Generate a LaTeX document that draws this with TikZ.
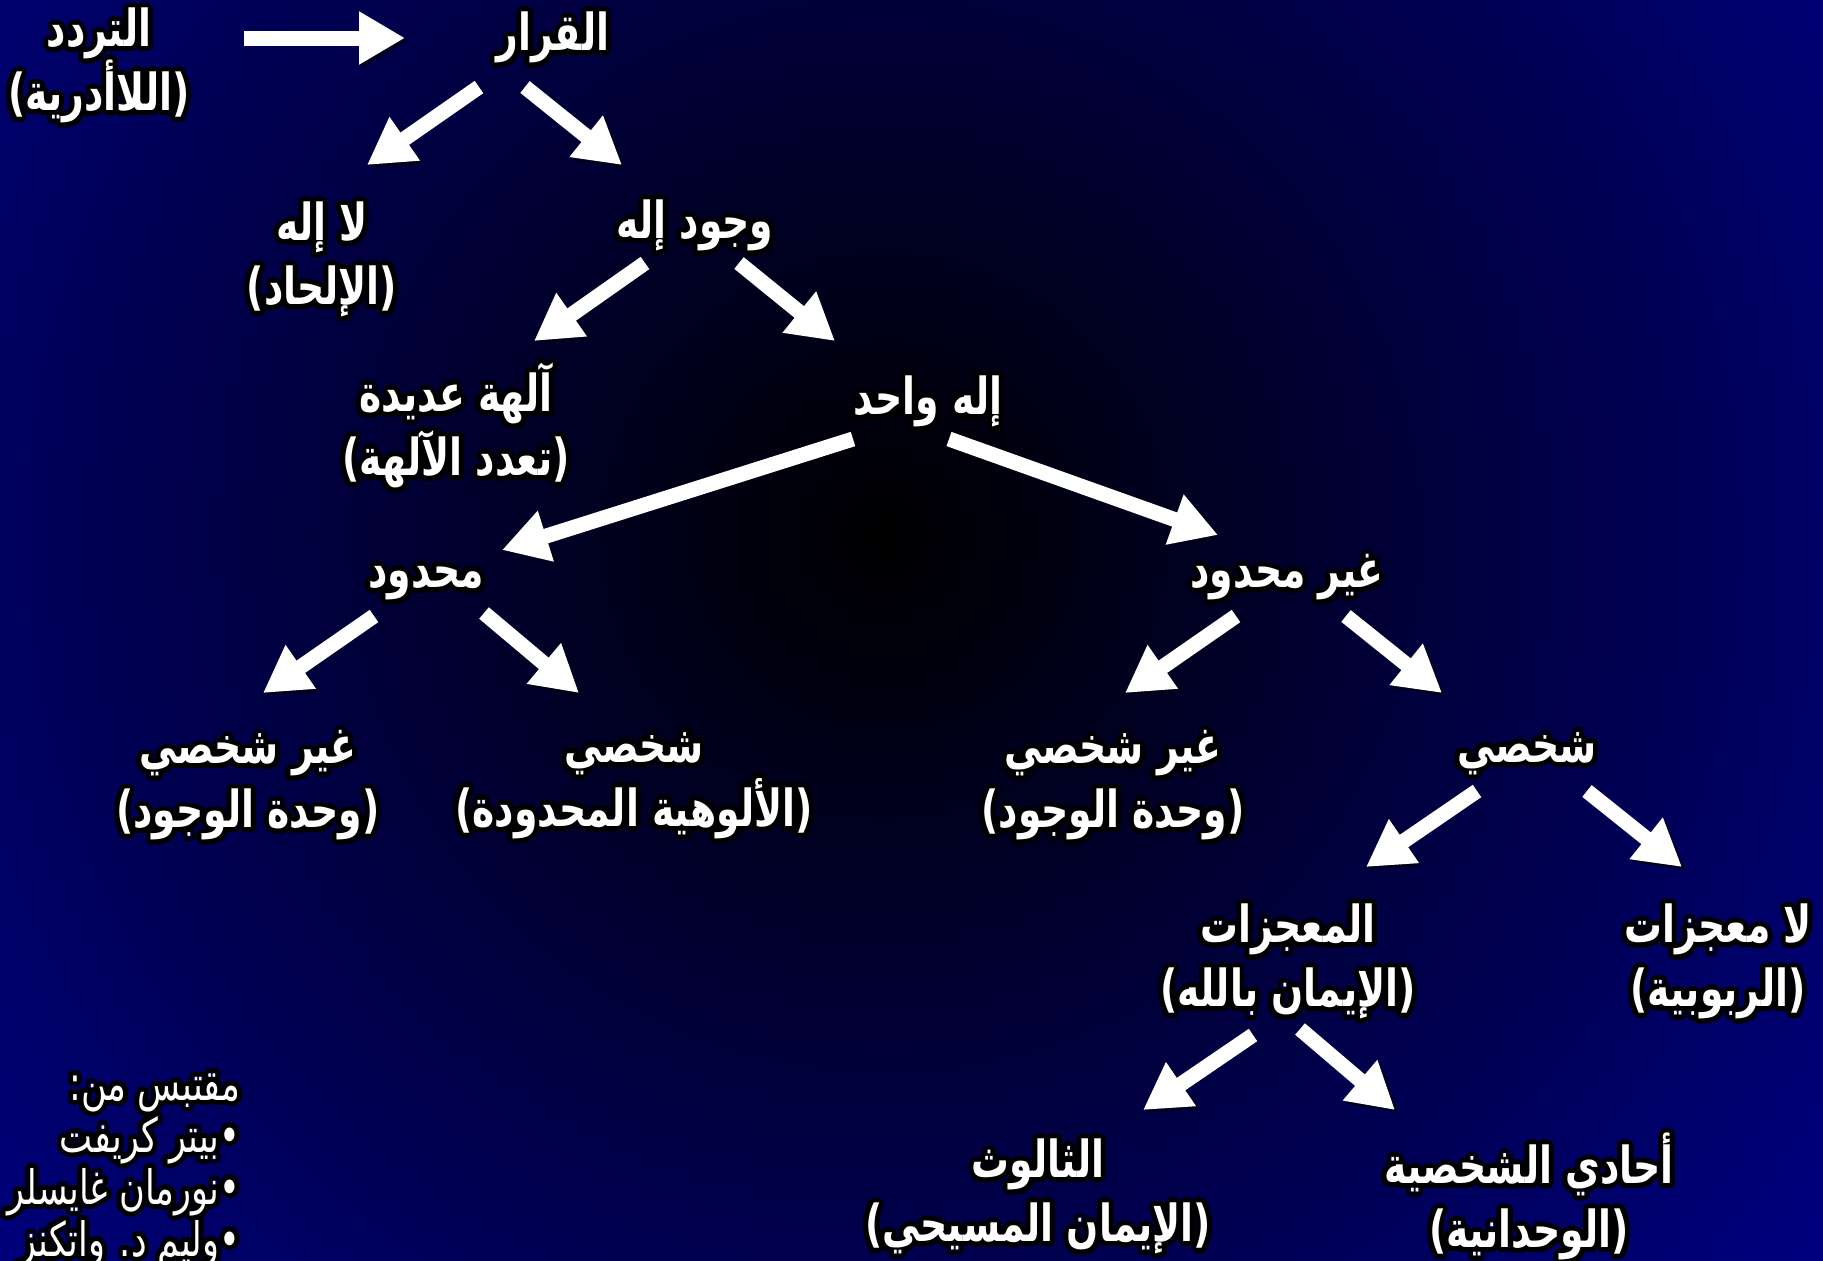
\documentclass[tikz,border=0pt]{standalone}
\usepackage{fontspec}
\usepackage{contour}
\usetikzlibrary{arrows.meta}
\TeXXeTstate=1
\newfontfamily\arabicfont[Script=Arabic,FakeStretch=0.74]{DejaVu Sans}
\definecolor{SlideBlue}{RGB}{0,0,140}
\contourlength{1.4pt}
\setlength{\lineskiplimit}{-20pt}
\newcommand{\artext}[1]{\contour{black}{\beginR #1\endR}}

\begin{document}
\begin{tikzpicture}[x=0.1mm,y=-0.1mm]
  \tikzstyle{choice}=[text=white,align=center,inner sep=0pt,
    font={\arabicfont\bfseries\fontsize{14.5}{18.2}\selectfont}]
  \tikzstyle{bigarrow}=[draw=white,line width=1.5mm,
    -{Triangle[width=5mm,length=4.6mm]},
    preaction={draw=black!80!SlideBlue,transform canvas={shift={(3,3)}}}]
  % background
  \useasboundingbox (0,0) rectangle (1823,1260);
  \fill[SlideBlue] (0,0) rectangle (1823,1260);
  \begin{scope}
    \clip (0,0) rectangle (1823,1260);
    \shade[inner color=black,outer color=SlideBlue] (884,535) circle (1300);
  \end{scope}
  % nodes
  \node[choice] (tardud) at (99,68) {\artext{التردد}\\\artext{(اللاأدرية)}};
  \node[choice] (qarar) at (553,40) {\artext{القرار}};
  \node[choice] (laila) at (322,262) {\artext{لا إله}\\\artext{(الإلحاد)}};
  \node[choice] (wujud) at (695,228) {\artext{وجود إله}};
  \node[choice] (aliha) at (456,428) {\artext{آلهة عديدة}\\\artext{(تعدد الآلهة)}};
  \node[choice] (wahid) at (928,404) {\artext{إله واحد}};
  \node[choice] (mahdud) at (426,586) {\artext{محدود}};
  \node[choice] (ghmahdud) at (1287,580) {\artext{غير محدود}};
  \node[choice] (ghshakhsiA) at (248,788) {\artext{غير شخصي}\\\artext{(وحدة الوجود)}};
  \node[choice] (shakhsiA) at (634,788) {\artext{شخصي}\\\artext{(الألوهية المحدودة)}};
  \node[choice] (ghshakhsiB) at (1113,788) {\artext{غير شخصي}\\\artext{(وحدة الوجود)}};
  \node[choice] (shakhsiB) at (1527,756) {\artext{شخصي}};
  \node[choice] (muajizat) at (1288,964) {\artext{المعجزات}\\\artext{(الإيمان بالله)}};
  \node[choice] (lamuajizat) at (1718,964) {\artext{لا معجزات}\\\artext{(الربوبية)}};
  \node[choice] (thaluth) at (1038,1199) {\artext{الثالوث}\\\artext{(الإيمان المسيحي)}};
  \node[choice] (ahadi) at (1529,1199) {\artext{أحادي الشخصية}\\\artext{(الوحدانية)}};
  \node[choice,align=right,anchor=north east,
    font={\arabicfont\fontsize{13.5}{14.8}\selectfont}] (sources) at (241,1073)
    {\artext{مقتبس من:}\\\artext{•بيتر كريفت}\\\artext{•نورمان غايسلر}\\\artext{•وليم د. واتكنز}};
  % arrow ends
  \coordinate (tardud-e) at (244,38);   \coordinate (qarar-w) at (405,38);
  \coordinate (qarar-sl) at (479,87);   \coordinate (laila-n) at (367,165);
  \coordinate (qarar-sr) at (525,87);   \coordinate (wujud-n) at (622,165);
  \coordinate (wujud-sl) at (645,263);  \coordinate (aliha-n) at (534,341);
  \coordinate (wujud-sr) at (739,263);  \coordinate (wahid-n) at (835,341);
  \coordinate (wahid-sl) at (853,439);  \coordinate (mahdud-n) at (502,550);
  \coordinate (wahid-sr) at (949,439);  \coordinate (ghmahdud-n) at (1218,535);
  \coordinate (mahdud-sl) at (374,616); \coordinate (ghshakhsiA-n) at (263,693);
  \coordinate (mahdud-sr) at (484,613); \coordinate (shakhsiA-n) at (579,693);
  \coordinate (ghmahdud-sl) at (1236,616); \coordinate (ghshakhsiB-n) at (1125,693);
  \coordinate (ghmahdud-sr) at (1346,616); \coordinate (shakhsiB-n) at (1442,693);
  \coordinate (shakhsiB-sl) at (1477,791); \coordinate (muajizat-n) at (1366,867);
  \coordinate (shakhsiB-sr) at (1587,791); \coordinate (lamuajizat-n) at (1682,867);
  \coordinate (muajizat-sl) at (1253,1035); \coordinate (thaluth-n) at (1143,1110);
  \coordinate (muajizat-sr) at (1300,1029); \coordinate (ahadi-n) at (1395,1110);
  % arrows
  \draw[bigarrow] (tardud-e)--(qarar-w);
  \draw[bigarrow] (qarar-sl)--(laila-n);
  \draw[bigarrow] (qarar-sr)--(wujud-n);
  \draw[bigarrow] (wujud-sl)--(aliha-n);
  \draw[bigarrow] (wujud-sr)--(wahid-n);
  \draw[bigarrow] (wahid-sl)--(mahdud-n);
  \draw[bigarrow] (wahid-sr)--(ghmahdud-n);
  \draw[bigarrow] (mahdud-sl)--(ghshakhsiA-n);
  \draw[bigarrow] (mahdud-sr)--(shakhsiA-n);
  \draw[bigarrow] (ghmahdud-sl)--(ghshakhsiB-n);
  \draw[bigarrow] (ghmahdud-sr)--(shakhsiB-n);
  \draw[bigarrow] (shakhsiB-sl)--(muajizat-n);
  \draw[bigarrow] (shakhsiB-sr)--(lamuajizat-n);
  \draw[bigarrow] (muajizat-sl)--(thaluth-n);
  \draw[bigarrow] (muajizat-sr)--(ahadi-n);
\end{tikzpicture}
\end{document}
